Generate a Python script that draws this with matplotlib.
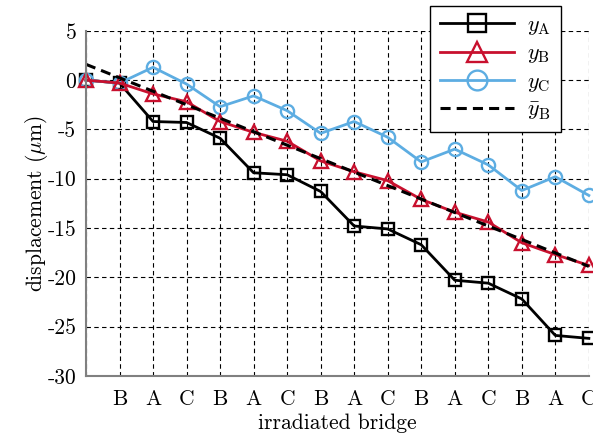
import matplotlib
matplotlib.use("Agg")
import matplotlib.pyplot as plt

# Irradiation sequence (step 0 is the unirradiated reference state)
steps = list(range(16))
bridge_labels = ["", "B", "A", "C", "B", "A", "C", "B", "A", "C",
                 "B", "A", "C", "B", "A", "C"]

# Displacement per bridge after each irradiation step (um)
y_A = [0.0, -0.3, -4.2, -4.3, -5.9, -9.4, -9.6, -11.3,
       -14.8, -15.1, -16.7, -20.3, -20.6, -22.2, -25.9, -26.2]
y_B = [0.0, -0.3, -1.4, -2.2, -4.2, -5.3, -6.2, -8.2,
       -9.3, -10.2, -12.1, -13.4, -14.4, -16.5, -17.7, -18.8]
y_C = [0.0, -0.3, 1.3, -0.4, -2.7, -1.6, -3.1, -5.4,
       -4.2, -5.8, -8.3, -7.0, -8.6, -11.2, -9.8, -11.7]

# Linear trend of bridge B (start / end of the fitted line)
trend_x = [0, 15]
trend_B = [1.6, -18.9]

y_ticks = [5, 0, -5, -10, -15, -20, -25, -30]

RED = "#c8102e"
BLUE = "#5dade2"

plt.rcParams.update({
    "font.family": ["cmr10", "DejaVu Serif"],
    "mathtext.fontset": "cm",
    "font.size": 15.5,
    "axes.unicode_minus": False,
})

fig = plt.figure(figsize=(5.93, 4.34), dpi=100)
ax = fig.add_axes([0.145, 0.134, 0.848, 0.795])

common = dict(linewidth=2.0, markeredgewidth=1.7,
              markerfacecolor="none", clip_on=False)
ax.plot(steps, y_A, color="black", marker="s", markersize=8.5,
        label=r"$y_\mathrm{A}$", zorder=3, **common)
ax.plot(steps, y_B, color=RED, marker="^", markersize=9.5,
        label=r"$y_\mathrm{B}$", zorder=4, **common)
ax.plot(steps, y_C, color=BLUE, marker="o", markersize=9.5,
        label=r"$y_\mathrm{C}$", zorder=3, **common)
ax.plot(trend_x, trend_B, color="black", linestyle=(0, (3.3, 2)),
        linewidth=2.2, label=r"$\bar{y}_\mathrm{B}$", zorder=5, clip_on=False)

ax.set_xlim(0, 15)
ax.set_ylim(-30, 5)
ax.set_xticks(steps)
ax.set_xticklabels(bridge_labels)
ax.set_yticks(y_ticks)
ax.set_yticklabels([str(t) for t in y_ticks])
ax.tick_params(axis="y", length=0, pad=7)
ax.tick_params(axis="x", length=0, pad=10)

ax.grid(True, color="black", linestyle=(0, (4, 3)), linewidth=0.8)
for side in ("top", "right"):
    ax.spines[side].set_visible(False)
for side in ("left", "bottom"):
    ax.spines[side].set_color("#808080")
    ax.spines[side].set_linewidth(1.5)
    ax.spines[side].set_zorder(6)

ax.set_xlabel("irradiated bridge", labelpad=3)
ax.set_ylabel(r"displacement ($\mu$m)", labelpad=-2)

leg = ax.legend(loc="lower right", bbox_to_anchor=(0.945, 0.707),
                borderaxespad=0, handlelength=3.3, fancybox=False,
                framealpha=1, edgecolor="black", borderpad=0.45,
                labelspacing=0.3, handletextpad=0.6, fontsize=16,
                markerscale=1.5)
leg.get_frame().set_linewidth(1.0)
leg.set_zorder(10)

fig.savefig("out.png", dpi=100)
